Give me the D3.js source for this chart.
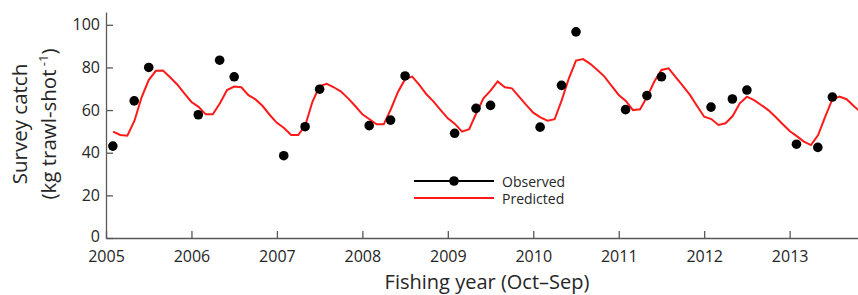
<!DOCTYPE html>
<html>
<head>
<meta charset="utf-8">
<script src="https://cdn.jsdelivr.net/npm/d3@7"></script>
<style>
  html, body { margin: 0; padding: 0; background: #fff; }
  svg { display: block; font-family: "Open Sans", sans-serif; }
</style>
</head>
<body>
<div id="chart"></div>
<script>
// observed survey catch (fishing year decimal, kg per trawl-shot)
const obsYears = [
  2005.08, 2005.33, 2005.5, 2006.08, 2006.33, 2006.5, 2007.08, 2007.33, 2007.5,
  2008.08, 2008.33, 2008.5, 2009.08, 2009.33, 2009.5, 2010.08, 2010.33, 2010.5,
  2011.08, 2011.33, 2011.5, 2012.08, 2012.33, 2012.5, 2013.08, 2013.33, 2013.5
];
const obsValues = [
  43.1, 64.3, 80.0, 57.8, 83.4, 75.6, 38.6, 52.2, 69.8,
  52.7, 55.3, 76.0, 49.1, 60.8, 62.2, 52.0, 71.6, 96.7,
  60.2, 66.8, 75.6, 61.4, 65.2, 69.4, 44.0, 42.5, 66.1
];

// predicted, monthly from Nov 2005 (fishing year 2005 + 1/12)
const predStart = 2005 + 1 / 12;
const predValues = [
  49.9, 48.3, 48.0, 55.0, 66.0, 74.1, 78.4, 78.5, 75.4, 72.0, 67.8, 63.8,
  61.5, 58.0, 58.0, 63.2, 69.4, 71.0, 70.7, 67.0, 65.0, 61.9, 57.7, 54.0,
  51.6, 48.3, 48.3, 53.0, 64.0, 71.3, 72.3, 70.7, 68.7, 65.5, 61.9, 58.0,
  55.7, 53.3, 53.3, 60.4, 68.5, 74.5, 75.7, 71.8, 67.4, 64.0, 60.0, 56.1,
  53.5, 49.9, 51.0, 58.5, 65.5, 69.1, 73.4, 70.7, 70.2, 66.3, 62.4, 58.8,
  56.6, 55.0, 55.7, 64.7, 74.9, 83.2, 83.9, 81.7, 78.8, 75.7, 71.3, 67.1,
  64.3, 60.0, 60.4, 66.3, 73.4, 78.8, 79.6, 75.4, 71.3, 67.1, 61.9, 56.9,
  55.8, 53.0, 53.8, 57.2, 63.2, 66.3, 64.7, 62.4, 60.0, 56.9, 53.5, 50.2,
  47.8, 45.2, 43.6, 48.3, 56.9, 65.1, 66.3, 65.1, 61.9, 59.0
];

const xTicks = [2005, 2006, 2007, 2008, 2009, 2010, 2011, 2012, 2013];
const yTicks = [0, 20, 40, 60, 80, 100];

const W = 858, H = 295;
const MARGIN = { top: 12, right: 0, bottom: 57, left: 106 };
const AXIS_COLOR = "#595959";
const TEXT_COLOR = "#262626";

const observed = obsYears.map((t, i) => ({ t, v: obsValues[i] }));
const predicted = predValues.map((v, i) => ({ t: predStart + i / 12, v }));

const svg = d3.select("#chart").append("svg")
  .attr("width", W)
  .attr("height", H);

const x = d3.scaleLinear()
  .domain([2005, 2013.8])
  .range([MARGIN.left, W - MARGIN.right]);
const y = d3.scaleLinear()
  .domain([0, 106])
  .range([H - MARGIN.bottom, MARGIN.top]);

svg.append("clipPath").attr("id", "plot-clip")
  .append("rect")
  .attr("x", MARGIN.left).attr("y", MARGIN.top)
  .attr("width", W - MARGIN.left - MARGIN.right)
  .attr("height", H - MARGIN.top - MARGIN.bottom);

// axes, ticks point inward
const xAxis = svg.append("g")
  .attr("transform", `translate(0,${y(0)})`)
  .call(d3.axisBottom(x).tickValues(xTicks).tickFormat(d3.format("d"))
    .tickSizeInner(-7).tickSizeOuter(0).tickPadding(13));
const yAxis = svg.append("g")
  .attr("transform", `translate(${x(2005)},0)`)
  .call(d3.axisLeft(y).tickValues(yTicks).tickSizeInner(-7).tickSizeOuter(0).tickPadding(6));

[xAxis, yAxis].forEach((g) => {
  g.select(".domain").attr("stroke", AXIS_COLOR).attr("stroke-width", 1.3);
  g.selectAll(".tick line").attr("stroke", AXIS_COLOR).attr("stroke-width", 1.3);
  g.selectAll(".tick text")
    .attr("fill", TEXT_COLOR)
    .style("font-size", "16px")
    .style("font-family", "'Open Sans', sans-serif");
});
// nudge the y "0" label up a touch so it clears the 2005 label
yAxis.selectAll(".tick text").filter((d) => d === 0).attr("dy", "0.22em");

// predicted line
const line = d3.line().x((d) => x(d.t)).y((d) => y(d.v));
svg.append("path")
  .datum(predicted)
  .attr("clip-path", "url(#plot-clip)")
  .attr("fill", "none")
  .attr("stroke", "#ff1a1a")
  .attr("stroke-width", 2)
  .attr("d", line);

// observed points
svg.append("g").selectAll("circle")
  .data(observed)
  .join("circle")
  .attr("cx", (d) => x(d.t))
  .attr("cy", (d) => y(d.v))
  .attr("r", 4.8)
  .attr("fill", "#000");

// axis titles
svg.append("text")
  .attr("x", 487).attr("y", 289)
  .attr("text-anchor", "middle")
  .attr("fill", TEXT_COLOR)
  .style("font-size", "20px")
  .text("Fishing year (Oct\u2013Sep)");

const yTitle = svg.append("text")
  .attr("transform", "translate(0,124) rotate(-90)")
  .attr("text-anchor", "middle")
  .attr("fill", TEXT_COLOR)
  .style("font-size", "20.5px");
yTitle.append("tspan").attr("x", 0).attr("y", 27).text("Survey catch");
const l2 = yTitle.append("tspan").attr("x", 0).attr("y", 56);
l2.append("tspan").text("(kg trawl-shot");
l2.append("tspan").attr("dy", -8).style("font-size", "13px").text(" -1");
l2.append("tspan").attr("dy", 8).text(")");

// legend
const legend = svg.append("g").attr("transform", "translate(414,181)");
legend.append("line").attr("x1", 0).attr("x2", 80).attr("y1", 0).attr("y2", 0)
  .attr("stroke", "#000").attr("stroke-width", 2);
legend.append("circle").attr("cx", 40).attr("cy", 0).attr("r", 4.8).attr("fill", "#000");
legend.append("line").attr("x1", 0).attr("x2", 80).attr("y1", 17).attr("y2", 17)
  .attr("stroke", "#ff1a1a").attr("stroke-width", 2);
legend.append("text").attr("x", 88).attr("y", 5.5)
  .attr("fill", TEXT_COLOR).style("font-size", "14px").text("Observed");
legend.append("text").attr("x", 88).attr("y", 22.5)
  .attr("fill", TEXT_COLOR).style("font-size", "14px").text("Predicted");
</script>
</body>
</html>
